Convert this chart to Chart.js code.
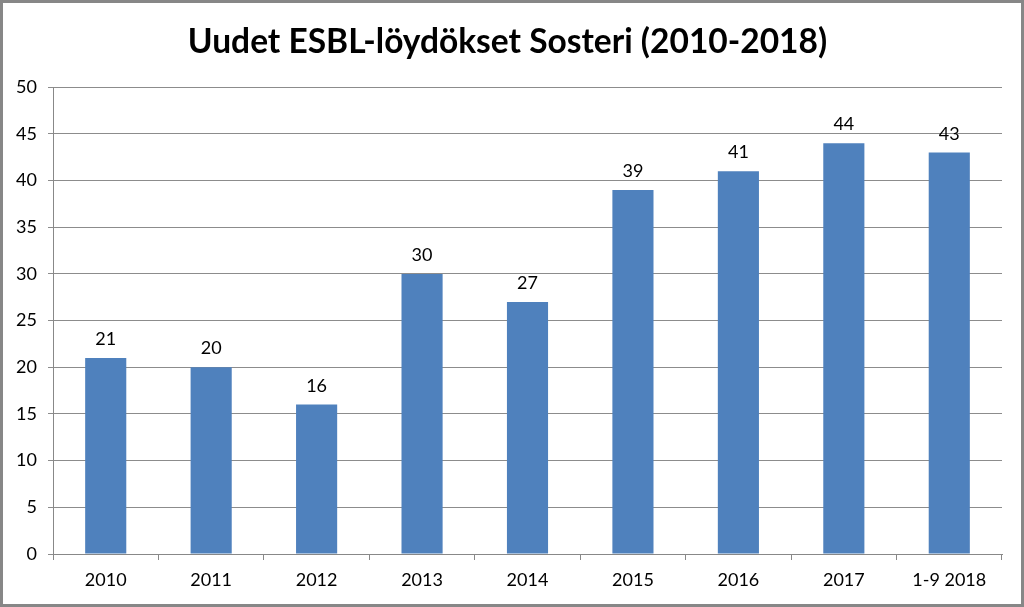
<!DOCTYPE html>
<html>
<head>
<meta charset="utf-8">
<script src="https://cdn.jsdelivr.net/npm/chart.js@4/dist/chart.umd.min.js"></script>
<style>
  html, body { margin: 0; padding: 0; background: #fff; }
  #wrap {
    width: 1024px; height: 607px; box-sizing: border-box;
    border: 3px solid #878787; background: #fff;
  }
  #chart { display: block; }
</style>
</head>
<body>
<div id="wrap"><canvas id="chart" width="1018" height="601"></canvas></div>
<script>
const categories = ['2010', '2011', '2012', '2013', '2014', '2015', '2016', '2017', '1-9 2018'];
const findings = [21, 20, 16, 30, 27, 39, 41, 44, 43];
const titleText = 'Uudet ESBL-löydökset Sosteri (2010-2018)';

const fontFamily = 'Lato, "Open Sans", sans-serif';

// numbers above each bar
const barLabels = {
    id: 'barLabels',
    afterDatasetsDraw(chart) {
        const ctx = chart.ctx;
        const meta = chart.getDatasetMeta(0);
        ctx.save();
        ctx.font = '18px ' + fontFamily;
        ctx.fillStyle = '#000';
        ctx.textAlign = 'center';
        ctx.textBaseline = 'alphabetic';
        meta.data.forEach((bar, i) => {
            ctx.fillText(String(findings[i]), bar.x, bar.y - 13);
        });
        ctx.restore();
    }
};

const ctx = document.getElementById('chart').getContext('2d');
new Chart(ctx, {
    type: 'bar',
    data: {
        labels: categories,
        datasets: [{
            data: findings,
            backgroundColor: '#4F81BD',
            borderWidth: 0,
            categoryPercentage: 1,
            barPercentage: 0.39
        }]
    },
    options: {
        responsive: false,
        animation: false,
        layout: { padding: { left: 10, right: 19, top: 0, bottom: 0 } },
        plugins: {
            legend: { display: false },
            tooltip: { enabled: false },
            title: {
                display: true,
                text: titleText,
                color: '#000',
                font: { family: fontFamily, size: 33.5, weight: 'bold' },
                padding: { top: 19, bottom: 25 }
            }
        },
        scales: {
            x: {
                afterFit(scale) { scale.height = 50; },
                grid: {
                    drawOnChartArea: false,
                    drawTicks: true,
                    tickLength: 6,
                    color: '#888',
                    offset: true
                },
                border: { color: '#888', width: 1 },
                ticks: {
                    color: '#000',
                    font: { family: fontFamily, size: 18 },
                    padding: 9
                }
            },
            y: {
                min: 0,
                max: 50,
                afterFit(scale) { scale.width = 40; },
                grid: {
                    color: '#8c8c8c',
                    tickLength: 5
                },
                border: { color: '#888', width: 1 },
                ticks: {
                    stepSize: 5,
                    color: '#000',
                    font: { family: fontFamily, size: 18 },
                    padding: 11
                }
            }
        }
    },
    plugins: [barLabels]
});
</script>
</body>
</html>
